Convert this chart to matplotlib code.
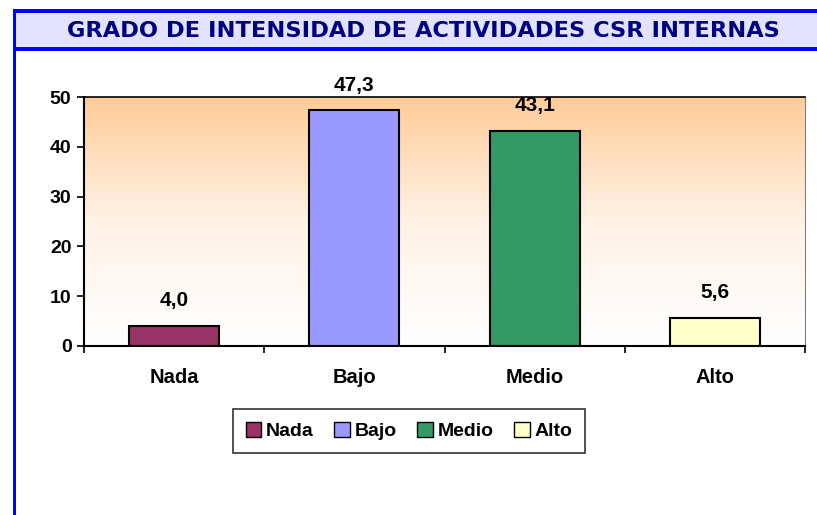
import numpy as np
import matplotlib.pyplot as plt
from matplotlib.patches import Rectangle
from matplotlib.colors import LinearSegmentedColormap

categorias = ['Nada', 'Bajo', 'Medio', 'Alto']
valores = [4.0, 47.3, 43.1, 5.6]
etiquetas = ['4,0', '47,3', '43,1', '5,6']
colores = ['#993366', '#9999FF', '#339966', '#FFFFCC']
titulo = 'GRADO DE INTENSIDAD DE ACTIVIDADES CSR INTERNAS'

W, H = 817, 515
fig = plt.figure(figsize=(W / 100, H / 100), dpi=100)

# marco azul y banda del titulo
fig.patches.append(Rectangle((14 / W, 1 - 49 / H), 1, 38 / H, transform=fig.transFigure,
                             facecolor='#E3E3FF', edgecolor='none', zorder=0))
fig.patches.append(Rectangle((13 / W, 0), 3 / W, 1 - 10 / H, transform=fig.transFigure,
                             facecolor='#0000FF', edgecolor='none', zorder=1))
fig.patches.append(Rectangle((13 / W, 1 - 12.5 / H), 1, 3 / H, transform=fig.transFigure,
                             facecolor='#0000FF', edgecolor='none', zorder=1))
fig.patches.append(Rectangle((13 / W, 1 - 50.5 / H), 1, 3 / H, transform=fig.transFigure,
                             facecolor='#0000FF', edgecolor='none', zorder=1))
fig.text(423 / W, 1 - 31 / H, titulo, ha='center', va='center', fontsize=16.2,
         fontweight='bold', color='#000080', family='DejaVu Sans')

ax = fig.add_axes([84 / W, 1 - 346 / H, (805 - 84) / W, (346 - 97) / H])
x = np.arange(len(categorias))
grad = np.linspace(0, 1, 256).reshape(-1, 1)
cmap = LinearSegmentedColormap.from_list('fondo', ['#FFFFFF', '#FFF2E6', '#FFCC99'])
ax.imshow(grad, extent=[-0.5, 3.5, 0, 50], origin='lower', aspect='auto', cmap=cmap, zorder=0)

ax.bar(x, valores, width=0.5, color=colores, edgecolor='black', linewidth=1.5,
       label=categorias, zorder=2)
for xi, v, t in zip(x, valores, etiquetas):
    ax.text(xi, v + 4.0, t, ha='center', va='baseline', fontsize=15, fontweight='bold',
            family='Liberation Sans', clip_on=False)

ax.set_xlim(-0.5, 3.5)
ax.set_ylim(0, 50)
ax.set_yticks(range(0, 51, 10))
ax.set_xticks(x)
ax.set_xticklabels(categorias)
ax.set_xticks(np.arange(-0.5, 3.6, 1), minor=True)
ax.tick_params(axis='x', which='major', length=0, pad=16)
ax.tick_params(axis='x', which='minor', length=5, width=1.2)
ax.tick_params(axis='y', length=5, width=1.2, pad=4)
for lab in ax.get_xticklabels():
    lab.set_fontweight('bold')
    lab.set_fontsize(14.5)
    lab.set_family('Liberation Sans')
for lab in ax.get_yticklabels():
    lab.set_fontweight('bold')
    lab.set_fontsize(14)
    lab.set_family('Liberation Sans')
for s in ['left', 'bottom', 'top']:
    ax.spines[s].set_linewidth(1.5)
ax.spines['top'].set_linewidth(1.2)
ax.spines['right'].set_color('#808080')

leg = fig.legend(loc='center', bbox_to_anchor=(409 / W, 1 - 431 / H), ncol=4,
                 prop={'family': 'Liberation Sans', 'weight': 'bold', 'size': 14},
                 frameon=True, fancybox=False, edgecolor='black', handlelength=0.8,
                 handleheight=0.8, handletextpad=0.25, columnspacing=1.05, borderpad=0.65)
leg.get_frame().set_linewidth(1.2)
for h in leg.legend_handles:
    h.set_linewidth(1.0)

fig.savefig('out.png', dpi=100)
